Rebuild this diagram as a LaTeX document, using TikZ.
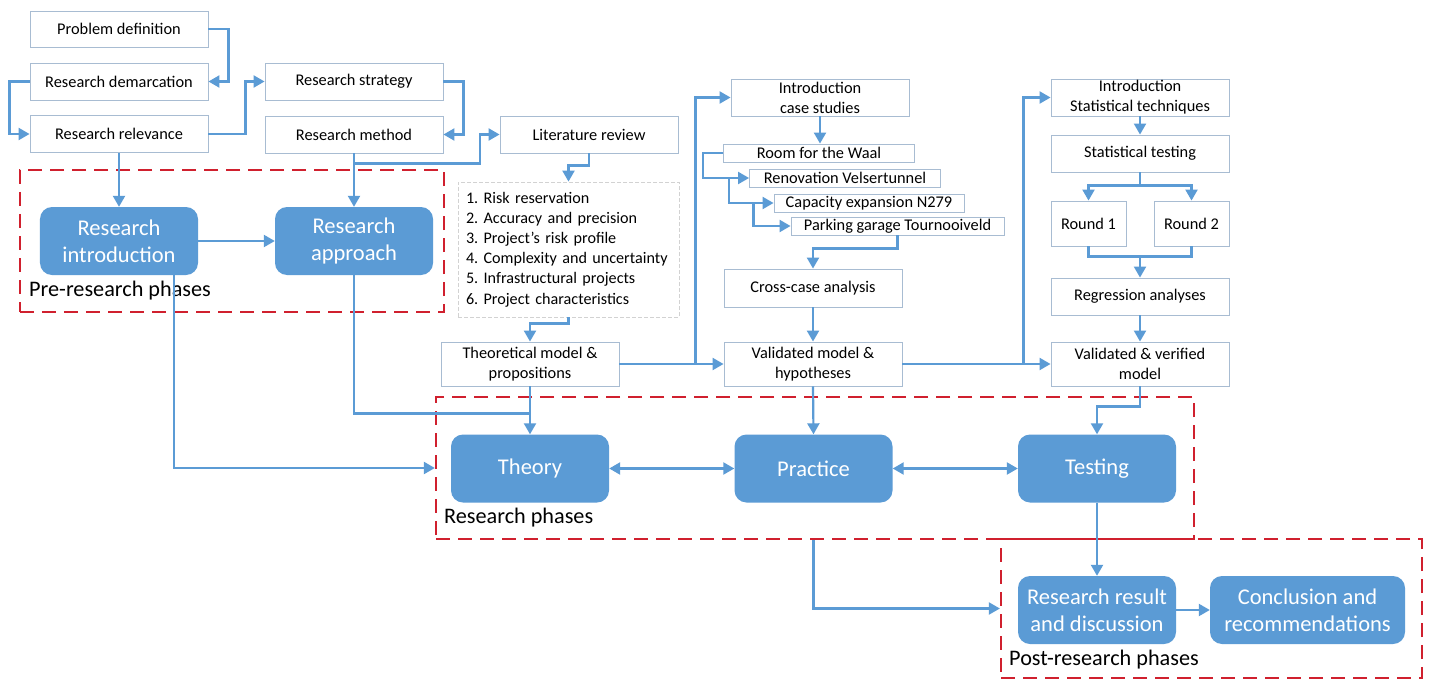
\documentclass[tikz,border=0pt]{standalone}
\usepackage{fontspec}
\setmainfont{Carlito}
\usetikzlibrary{arrows.meta,calc}
\definecolor{blu}{HTML}{5B9BD5}
\definecolor{bord}{HTML}{A8BCD2}
\definecolor{redd}{HTML}{D0202E}
\frenchspacing
\begin{document}
\begin{tikzpicture}[x=1bp,y=-1bp,
 sbox/.style={draw=bord,line width=0.9bp,fill=white,align=center,inner sep=0pt,font=\fontsize{16.4}{20}\selectfont},
 bbox/.style={fill=blu,rounded corners=12bp,text=white,align=center,inner sep=0pt,minimum width=158bp,minimum height=68bp,font=\fontsize{22.6}{27}\selectfont},
 conn/.style={draw=blu,line width=2.2bp},
 arr/.style={conn,-{Triangle[length=11bp,width=12bp]}},
 darr/.style={conn,{Triangle[length=11bp,width=12bp]}-{Triangle[length=11bp,width=12bp]}},
 phase/.style={draw=redd,line width=2.3bp,dash pattern=on 14bp off 8bp,inner sep=0pt},
 plabel/.style={anchor=west,inner sep=0pt,font=\fontsize{22.3}{26}\selectfont}]
\fill[white] (0,0) rectangle (1431,680);
\useasboundingbox (0,0) rectangle (1431,680);

% phase frames
\node[phase,minimum width=424bp,minimum height=142bp] (pre) at (232,241) {};
\node[phase,minimum width=758bp,minimum height=142bp] (rp) at (815,468) {};
\node[phase,minimum width=421bp,minimum height=139bp] (post) at (1211.5,608.5) {};
\node[plabel] (prel) at (29,291) {Pre-research phases};
\node[plabel] (rpl) at (444,518) {Research phases};
\node[plabel] (postl) at (1009,660) {Post-research phases};

% small boxes
\node[sbox,minimum width=178bp,minimum height=36bp] (pd) at (119,29) {Problem definition};
\node[sbox,minimum width=178bp,minimum height=37bp] (rdem) at (119,81.5) {Research demarcation};
\node[sbox,minimum width=178bp,minimum height=37bp] (rrel) at (119,134) {Research relevance};
\node[sbox,minimum width=178bp,minimum height=37bp] (rstr) at (354,81.5) {Research strategy};
\node[sbox,minimum width=178bp,minimum height=37bp] (rmet) at (354,134.5) {Research method};
\node[sbox,minimum width=178bp,minimum height=37bp] (lit) at (589,134.5) {Literature review};
\node[draw=gray!35,line width=0.8bp,dash pattern=on 4bp off 2bp,align=left,text width=205bp,inner xsep=8bp,inner ysep=0pt,minimum height=135bp,font=\fontsize{16.2}{20.2}\selectfont] (list) at (568.5,249.5)
 {1. Risk reservation\\2. Accuracy and precision\\3. Project’s risk profile\\4. Complexity and uncertainty\\5. Infrastructural projects\\6. Project characteristics};
\node[sbox,minimum width=178bp,minimum height=44bp] (theo) at (530,364) {Theoretical model \&\\propositions};
\node[sbox,minimum width=178bp,minimum height=37bp] (ics) at (820,97.5) {Introduction\\case studies};
\node[sbox,minimum width=191bp,minimum height=18bp] (waal) at (819,153) {Room for the Waal};
\node[sbox,minimum width=191bp,minimum height=18bp] (vel) at (845,178) {Renovation Velsertunnel};
\node[sbox,minimum width=190bp,minimum height=18bp] (cap) at (869,203) {Capacity expansion N279};
\node[sbox,minimum width=213bp,minimum height=18bp] (park) at (897.5,226) {Parking garage Tournooiveld};
\node[sbox,minimum width=178bp,minimum height=38bp] (cross) at (813,288) {Cross-case analysis};
\node[sbox,minimum width=178bp,minimum height=44bp] (vm) at (813,364) {Validated model \&\\hypotheses};
\node[sbox,minimum width=178bp,minimum height=37bp] (ist) at (1140,97.5) {Introduction\\Statistical techniques};
\node[sbox,minimum width=178bp,minimum height=37bp] (stt) at (1140,153.5) {Statistical testing};
\node[sbox,minimum width=75bp,minimum height=45bp] (r1) at (1088.5,223.5) {Round 1};
\node[sbox,minimum width=75bp,minimum height=45bp] (r2) at (1191.5,223.5) {Round 2};
\node[sbox,minimum width=178bp,minimum height=37bp] (reg) at (1140,296.5) {Regression analyses};
\node[sbox,minimum width=178bp,minimum height=44bp] (vv) at (1140,364) {Validated \& verified\\model};

% big boxes
\node[bbox] (intro) at (119,241) {Research\\introduction};
\node[bbox] (appr) at (354,241) {Research\\approach};
\node[bbox] (theory) at (530,468.5) {Theory};
\node[bbox] (prac) at (813.5,468.5) {Practice};
\node[bbox] (test) at (1097,468.5) {Testing};
\node[bbox] (res) at (1097,610) {Research result\\and discussion};
\node[bbox,minimum width=195bp] (concl) at (1307.5,610) {Conclusion and\\recommendations};

% connectors
\draw[arr] (pd.east) -- ++(20,0) |- (rdem.east);
\draw[arr] (rdem.west) -- ++(-20,0) |- (rrel.west);
\draw[arr] (rrel.east) -- ++(37,0) |- (rstr.west);
\draw[arr] (rstr.east) -- ++(20,0) |- (rmet.east);
\draw[arr] (rmet.south) -- (appr.north);
\draw[arr] (rmet.south) ++(0,10) -- ++(126,0) |- (lit.west);
\draw[arr] (rrel.south) -- (intro.north);
\draw[arr] (intro.east) -- (appr.west);
\draw[arr] (lit.south) -- ++(0,12) -| (list.north);
\draw[arr] (list.south) -- ++(0,6) -| (theo.north);
\draw[arr] (theo.east) -- (vm.west);
\draw[arr] (theo.east) ++(76,0) |- (ics.west);
\draw[arr] (ics.south) -- (ics.south |- waal.north);
\draw[arr] (waal.west) -- ++(-20,0) |- (vel.west);
\draw[arr] (vel.west) ++(-20,0) |- (cap.west);
\draw[arr] (cap.west) ++(-20,0) |- (park.west);
\draw[arr] (park.south) -- ++(0,13) -| (cross.north);
\draw[arr] (cross.south) -- (vm.north);
\draw[arr] (vm.east) -- (vv.west);
\draw[arr] (vm.east) ++(121,0) |- (ist.west);
\draw[arr] (ist.south) -- (stt.north);
\coordinate (s1) at ($(stt.south)+(0,13)$);
\draw[conn] (stt.south) -- (s1);
\draw[arr] (s1) -| (r1.north);
\draw[arr] (s1) -| (r2.north);
\coordinate (s2) at ($(reg.north)+(0,-21)$);
\draw[conn] (r1.south) |- (s2) -| (r2.south);
\draw[arr] (s2) -- (reg.north);
\draw[arr] (reg.south) -- (vv.north);
\draw[arr] (vv.south) -- ++(0,20) -| (test.north);
\draw[arr] (vm.south) -- (prac.north);
\draw[arr] (theo.south) -- (theory.north);
\draw[conn] (appr.south) |- ($(theo.south)+(0,27)$);
\draw[arr] ([xshift=55bp]intro.south) |- (rp.west);
\draw[darr] (theory.east) -- (prac.west);
\draw[darr] (prac.east) -- (test.west);
\draw[arr] (test.south) -- (res.north);
\draw[arr] (prac.south |- rp.south) |- (post.west);
\draw[arr] (res.east) -- (concl.west);
\end{tikzpicture}
\end{document}
